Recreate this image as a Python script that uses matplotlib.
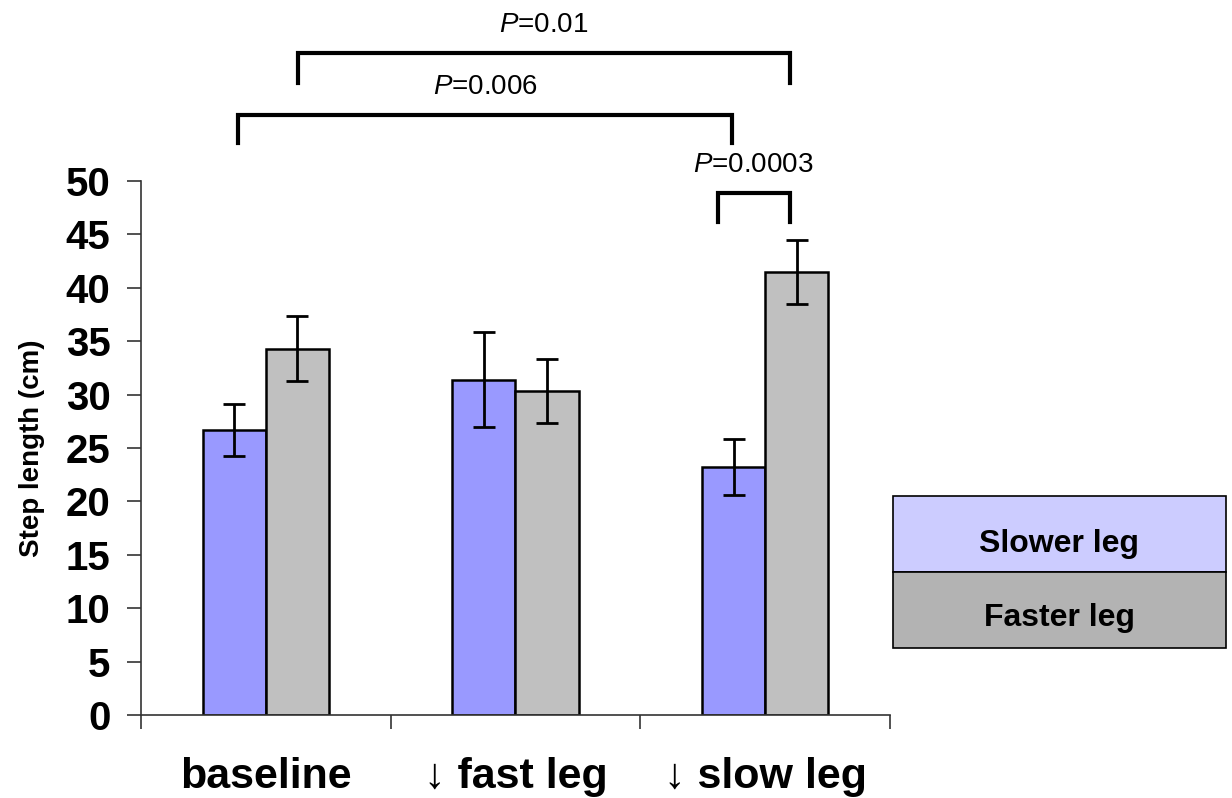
import matplotlib
matplotlib.use('Agg')
import matplotlib.pyplot as plt
from matplotlib.patches import Rectangle
import numpy as np

plt.rcParams['font.family'] = ['Liberation Sans', 'DejaVu Sans']
plt.rcParams['mathtext.fontset'] = 'custom'
plt.rcParams['mathtext.it'] = 'Liberation Sans:italic'
plt.rcParams['mathtext.rm'] = 'Liberation Sans'

# Data
conditions = ['baseline', '\u2193 fast leg', '\u2193 slow leg']
slower_leg = [26.7, 31.4, 23.2]
slower_err = [2.45, 4.45, 2.6]
faster_leg = [34.3, 30.3, 41.5]
faster_err = [3.05, 3.0, 3.0]
legend_labels = ['Slower leg', 'Faster leg']

# Significance brackets: (x_left, x_right, y_line, y_left_end, y_right_end, label)
brackets = [
    (0.13, 2.098, 62.0, 59.2, 59.2, r'$\mathit{P}$=0.01'),
    (-0.11, 1.866, 56.2, 53.6, 53.6, r'$\mathit{P}$=0.006'),
    (1.81, 2.098, 48.9, 46.2, 46.2, r'$\mathit{P}$=0.0003'),
]

fig = plt.figure(figsize=(12.32, 7.98), dpi=100)
ax = fig.add_axes([0.1144, 0.104, 0.608, 0.6692])

x = np.arange(len(conditions))
w = 0.253
ax.bar(x - w / 2, slower_leg, w, color='#9999FF', edgecolor='black', linewidth=1.8, zorder=2)
ax.bar(x + w / 2, faster_leg, w, color='#C0C0C0', edgecolor='black', linewidth=1.8, zorder=2)
ax.errorbar(x - w / 2, slower_leg, yerr=slower_err, fmt='none', ecolor='black',
            elinewidth=2, capsize=8, capthick=2, zorder=3)
ax.errorbar(x + w / 2, faster_leg, yerr=faster_err, fmt='none', ecolor='black',
            elinewidth=2, capsize=8, capthick=2, zorder=3)

ax.set_xlim(-0.5, 2.5)
ax.set_ylim(0, 50)
ax.set_yticks(range(0, 51, 5))
ax.set_yticklabels([str(v) for v in range(0, 51, 5)], fontsize=29, fontweight='bold')
ax.set_xticks([-0.5, 0.5, 1.5, 2.5])
ax.set_xticklabels([])
ax.set_xticks(x, minor=True)
ax.set_xticklabels(conditions, minor=True, fontsize=31, fontweight='bold')
ax.tick_params(axis='x', which='minor', length=0, pad=30)
ax.tick_params(axis='x', which='major', direction='out', length=10, width=1.2, color='#333333')
ax.tick_params(axis='y', direction='out', length=10, width=1.2, color='#333333', pad=12)
for side in ['top', 'right']:
    ax.spines[side].set_visible(False)
for side in ['left', 'bottom']:
    ax.spines[side].set_color('#333333')
    ax.spines[side].set_linewidth(1.2)
ax.set_ylabel('Step length (cm)', fontsize=20, fontweight='bold', labelpad=15)

for x0, x1, yl, y0, y1, label in brackets:
    ax.plot([x0, x0, x1, x1], [y0, yl, yl, y1], color='black', linewidth=3,
            clip_on=False, solid_joinstyle='miter')
    ax.text((x0 + x1) / 2, yl + 1.4, label, fontsize=20, ha='center', va='bottom',
            clip_on=False)

# Legend box
lx, lw = 0.7248, 0.2703
fig.add_artist(Rectangle((lx, 0.2832), lw, 0.0952, transform=fig.transFigure,
                         facecolor='#CCCCFF', edgecolor='black', linewidth=1.2))
fig.add_artist(Rectangle((lx, 0.1880), lw, 0.0952, transform=fig.transFigure,
                         facecolor='#B3B3B3', edgecolor='black', linewidth=1.2))
fig.text(lx + lw / 2, 0.3183, legend_labels[0], fontsize=23, fontweight='bold',
         ha='center', va='center')
fig.text(lx + lw / 2, 0.2256, legend_labels[1], fontsize=23, fontweight='bold',
         ha='center', va='center')

fig.savefig('out.png', dpi=100)
